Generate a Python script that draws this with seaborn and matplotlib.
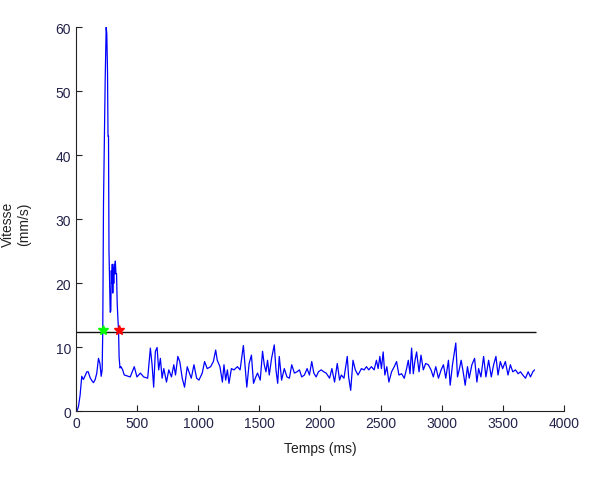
import numpy as np
import pandas as pd
import matplotlib
matplotlib.use("Agg")
import matplotlib.pyplot as plt
import seaborn as sns

# velocity trace (time in ms, speed in mm/s)
t_start = [0, 10, 20, 33, 47, 60, 75, 88, 100, 115, 130, 143, 157, 170, 184, 196,
           206, 214, 219, 225, 239, 247, 252, 258, 262, 266, 270, 275, 280, 285,
           289, 293, 297, 301, 305, 309, 313, 318, 322, 327, 332, 337, 343, 348,
           353, 360, 368, 382, 395]
v_start = [0, 0.2, 0.8, 2.5, 5.5, 5.0, 5.6, 6.2, 6.2, 5.3, 4.8, 4.5, 5.0, 6.0, 8.3, 7.5,
           5.5, 6.5, 12.7, 32.5, 52, 60, 59, 53, 43, 43, 25, 20.5, 15.5, 15.7,
           22, 20, 23, 18.5, 22.5, 20, 23, 21.5, 23.5, 21.5, 21.5, 17, 14.5, 12.8,
           8.5, 6.8, 7.0, 6.5, 5.7]

t_mid = [444, 477, 499, 527, 554, 587, 609, 623, 636, 650, 664, 677, 691, 705, 719,
         741, 760, 782, 801, 815, 834, 850, 870, 889, 911, 925, 944, 966, 988, 1007,
         1034, 1053, 1075, 1103, 1125, 1144, 1157, 1179, 1199, 1212, 1226, 1240, 1253,
         1273, 1294, 1322, 1344, 1371, 1385, 1399, 1418, 1437, 1454, 1473, 1487, 1509,
         1528, 1542, 1556, 1569, 1583, 1602, 1624, 1638, 1652, 1665, 1684, 1706, 1728,
         1748, 1767, 1789, 1810, 1830, 1849, 1871, 1893, 1912, 1931, 1948, 1967, 1986,
         2008, 2030, 2049, 2077, 2096, 2118, 2140, 2159, 2173, 2195, 2222, 2233, 2250,
         2269, 2288, 2310]
v_mid = [5.4, 7.0, 5.4, 6.0, 5.4, 5.2, 9.9, 7.3, 3.8, 9.4, 10.0, 6.5, 8.3, 5.2, 6.7,
         4.6, 6.5, 5.4, 7.3, 5.7, 8.6, 7.8, 5.2, 3.8, 7.0, 6.2, 5.2, 7.3, 5.2, 4.9,
         6.0, 7.8, 6.7, 7.0, 7.8, 9.6, 8.0, 7.0, 4.6, 7.3, 4.9, 6.5, 4.4,
         6.7, 6.5, 7.0, 6.5, 10.3, 7.0, 3.8, 7.5, 8.8, 4.4, 5.4, 6.0, 4.9,
         9.4, 7.3, 6.2, 8.0, 5.7, 8.3, 10.4, 6.5, 4.4, 8.6, 4.9, 6.7, 5.4,
         5.2, 7.3, 6.0, 6.2, 6.5, 5.4, 5.7, 6.7, 5.7, 7.8, 6.0, 5.4, 6.2,
         6.5, 6.2, 6.0, 5.2, 6.7, 4.6, 7.5, 4.9, 5.7, 5.2, 8.6, 5.4, 3.3,
         8.0, 6.5, 5.7]

t_end = [2338, 2360, 2379, 2398, 2420, 2442, 2461, 2475, 2489, 2502, 2516, 2530, 2546,
         2563, 2585, 2607, 2626, 2645, 2667, 2689, 2708, 2722, 2736, 2749, 2763, 2777,
         2790, 2810, 2826, 2845, 2864, 2886, 2908, 2927, 2947, 2969, 2991, 3010, 3029,
         3051, 3065, 3084, 3111, 3125, 3139, 3155, 3174, 3188, 3207, 3221, 3243, 3265,
         3284, 3298, 3317, 3339, 3358, 3380, 3402, 3421, 3440, 3457, 3476, 3495, 3517,
         3539, 3558, 3578, 3600, 3622, 3641, 3660, 3682, 3704, 3723, 3742, 3756]
v_end = [6.7, 6.5, 7.0, 6.5, 7.0, 6.5, 8.0, 6.7, 8.6, 6.7, 9.3, 5.7, 7.0,
         4.6, 6.2, 7.0, 7.8, 5.7, 5.9, 5.2, 6.7, 8.0, 5.9, 9.9, 5.9, 8.0,
         9.3, 6.2, 8.8, 6.5, 7.5, 7.3, 6.5, 5.4, 7.0, 5.2, 6.5, 7.3, 5.2,
         8.0, 4.1, 7.3, 10.7, 5.4, 6.5, 8.0, 5.9, 4.1, 7.0, 5.2, 7.3, 8.3,
         4.6, 6.7, 5.4, 8.6, 5.4, 8.0, 5.4, 7.3, 8.6, 5.7, 7.8, 6.7, 7.8,
         5.7, 7.3, 6.2, 6.5, 5.9, 6.2, 5.7, 5.2, 6.2, 5.4, 6.2, 6.5]

threshold = 12.35
threshold_span = [0, 3765]
onset = (219, 12.7)
offset = (348, 12.8)

df = pd.DataFrame({"temps": t_start + t_mid + t_end,
                   "vitesse": v_start + v_mid + v_end})

sns.set_style("ticks", {"xtick.direction": "in", "ytick.direction": "in",
                        "axes.edgecolor": "#222222"})
plt.rcParams['font.family'] = ['Liberation Sans', 'DejaVu Sans']

fig = plt.figure(figsize=(5.94, 4.85), dpi=100)
ax = fig.add_axes([0.128, 0.1495, 0.822, 0.792])

sns.lineplot(data=df, x="temps", y="vitesse", ax=ax, color="#0000ff",
             linewidth=0.9, estimator=None)
ax.hlines(threshold, threshold_span[0], threshold_span[1], color="#111111", linewidth=1.0)
ax.plot(onset[0], onset[1], marker="*", color="#00ff00", markersize=7, linestyle="none")
ax.plot(offset[0], offset[1], marker="*", color="#ff0000", markersize=7, linestyle="none")

ax.set_xlim(0, 4000)
ax.set_ylim(0, 60)
ax.set_xticks(np.arange(0, 4001, 500))
ax.set_yticks(np.arange(0, 61, 10))
ax.tick_params(labelsize=10, length=4, width=0.8, colors="#222222", labelcolor="#23234a")
sns.despine(ax=ax)

ax.set_xlabel("Temps (ms)", fontsize=10, color="#222222")
ax.set_ylabel("Vitesse\n(mm/s)", fontsize=10, color="#222222")
ax.xaxis.set_label_coords(0.5, -0.078)
ax.yaxis.set_label_coords(-0.092, 0.49)

fig.savefig("out.png", dpi=100, facecolor="white")
